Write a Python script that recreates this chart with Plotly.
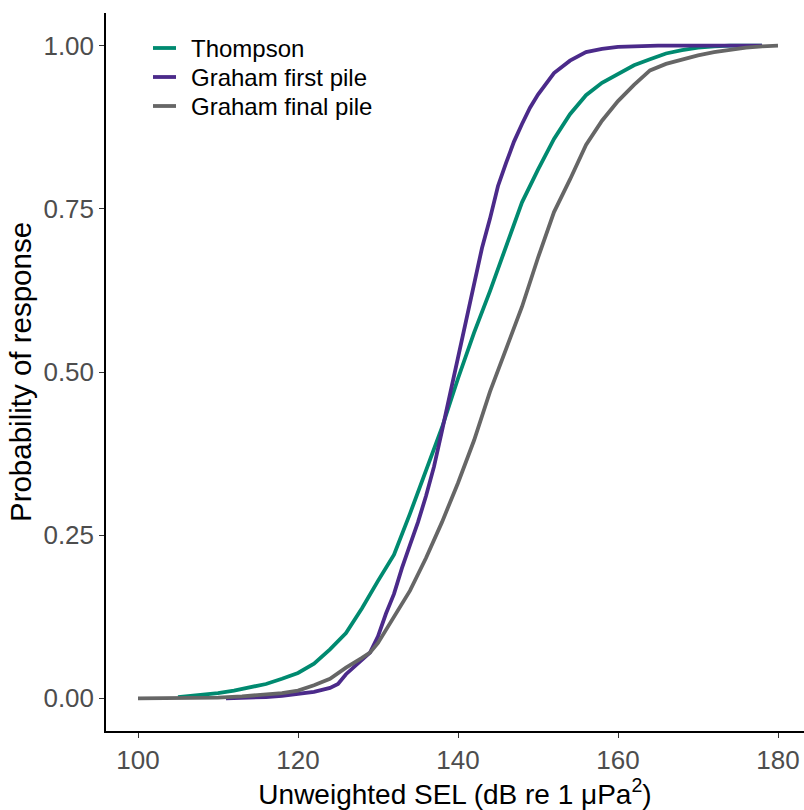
import plotly.graph_objects as go

# Thompson
th_x = [105, 110, 112, 114, 116, 118, 120, 122, 124, 126, 128, 130, 132, 134, 136, 138, 140,
        142, 144, 146, 148, 150, 152, 154, 156, 158, 160, 162, 164, 166, 168, 170, 172, 174, 178]
th_y = [0.002, 0.008, 0.012, 0.017, 0.022, 0.030, 0.039, 0.053, 0.075, 0.10, 0.138, 0.18, 0.22,
        0.283, 0.35, 0.415, 0.49, 0.56, 0.624, 0.69, 0.76, 0.81, 0.857, 0.895, 0.924, 0.943,
        0.957, 0.970, 0.979, 0.988, 0.993, 0.997, 0.999, 1.0, 1.0]

# Graham first pile
gf_x = [111, 114, 116, 118, 120, 122, 124, 125, 126, 127, 128, 129, 130, 131, 132, 133, 134, 135,
        136, 137, 138, 139, 140, 141, 142, 143, 144, 145, 146, 147, 148, 149, 150, 152, 154, 156,
        158, 160, 162, 165, 170, 178]
gf_y = [0.0, 0.001, 0.002, 0.004, 0.007, 0.010, 0.016, 0.022, 0.037, 0.048, 0.058, 0.070, 0.095,
        0.13, 0.16, 0.20, 0.235, 0.27, 0.31, 0.355, 0.41, 0.465, 0.52, 0.58, 0.63, 0.69, 0.735,
        0.785, 0.82, 0.853, 0.88, 0.905, 0.925, 0.958, 0.977, 0.99, 0.995, 0.998, 0.999, 1.0,
        1.0, 1.0]

# Graham final pile
gl_x = [100, 105, 110, 113, 116, 118, 120, 122, 124, 126, 128, 129, 130, 132, 134, 136, 138, 140,
        142, 144, 146, 148, 150, 152, 154, 156, 158, 160, 162, 164, 166, 168, 170, 172, 174, 176,
        178, 180]
gl_y = [0.0, 0.0, 0.001, 0.003, 0.006, 0.008, 0.012, 0.020, 0.030, 0.047, 0.062, 0.070, 0.085,
        0.125, 0.165, 0.215, 0.27, 0.33, 0.395, 0.47, 0.533, 0.60, 0.675, 0.745, 0.795, 0.848,
        0.885, 0.915, 0.94, 0.962, 0.972, 0.979, 0.985, 0.99, 0.994, 0.997, 0.999, 1.0]

x_ticks = [100, 120, 140, 160, 180]
y_ticks = [0.0, 0.25, 0.5, 0.75, 1.0]
y_tick_text = ["0.00", "0.25", "0.50", "0.75", "1.00"]

series = [
    ("Thompson", th_x, th_y, "#008A70"),
    ("Graham first pile", gf_x, gf_y, "#4B2A8A"),
    ("Graham final pile", gl_x, gl_y, "#666666"),
]

W, H = 804, 810
ML, MR, MT, MB = 106, 0, 13, 79
PW, PH = W - ML - MR, H - MT - MB

fig = go.Figure()
for name, xs, ys, col in series:
    fig.add_trace(go.Scatter(x=xs, y=ys, mode="lines", name=name, showlegend=False,
                             line=dict(color=col, width=3.8)))

# manual legend (inside, top-left), positioned in pixels
leg_x0, leg_x1, leg_tx, leg_y0, leg_dy = 153, 176, 189, 48, 29
shapes, annotations = [], []
for i, (name, _, _, col) in enumerate(series):
    py = leg_y0 + i * leg_dy
    yp = (H - MB - py) / PH
    shapes.append(dict(type="line", xref="paper", yref="paper",
                       x0=(leg_x0 - ML) / PW, x1=(leg_x1 - ML) / PW, y0=yp, y1=yp,
                       line=dict(color=col, width=3.8)))
    annotations.append(dict(text=name, xref="paper", yref="paper", x=(leg_tx - ML) / PW, y=yp,
                            xanchor="left", yanchor="middle", showarrow=False,
                            font=dict(size=24, color="black")))

FONT = "Liberation Sans, Arial, sans-serif"
fig.update_layout(
    width=W, height=H,
    margin=dict(l=ML, r=MR, t=MT, b=MB),
    paper_bgcolor="white", plot_bgcolor="white",
    font=dict(family=FONT, color="black"),
    showlegend=False,
    shapes=shapes, annotations=annotations,
    xaxis=dict(range=[96, 183.25], tickvals=x_ticks, ticktext=[str(v) for v in x_ticks],
               automargin=False,
               showgrid=False, zeroline=False, showline=True, linecolor="black", linewidth=1.5,
               ticks="outside", ticklen=5, tickwidth=1.2, tickcolor="#333333",
               tickfont=dict(size=26, color="#4D4D4D"),
               title=dict(text="Unweighted SEL (dB re 1 μPa<sup>2</sup>)",
                          font=dict(size=28, color="black"), standoff=8)),
    yaxis=dict(range=[-0.05, 1.05], tickvals=y_ticks, ticktext=y_tick_text,
               automargin=False,
               showgrid=False, zeroline=False, showline=True, linecolor="black", linewidth=1.5,
               ticks="outside", ticklen=5, tickwidth=1.2, tickcolor="#333333",
               tickfont=dict(size=26, color="#4D4D4D"),
               title=dict(text="Probability of response", font=dict(size=29.5, color="black"),
                          standoff=3)),
)

fig.write_html("out.html", config={"displayModeBar": False},
               post_script="document.body.style.margin='0';")
